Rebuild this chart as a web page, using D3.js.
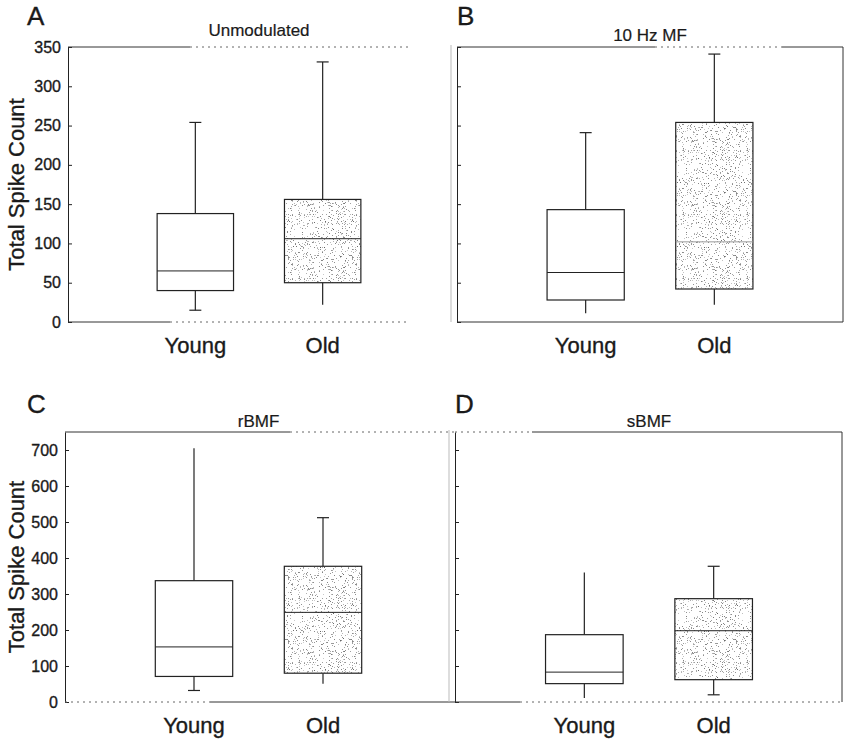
<!DOCTYPE html>
<html lang="en">
<head>
    <meta charset="UTF-8">
    <title>Total Spike Count - Young vs Old</title>
    <style>
        body {
            margin: 0;
            background: #ffffff;
        }
        svg {
            display: block;
            font-family: "Liberation Sans", Arial, sans-serif;
        }
        text {
            fill: #1a1a1a;
            stroke: #1a1a1a;
            stroke-width: 0.35px;
        }
        .tick text {
            font-size: 16px;
            font-family: "Liberation Sans", Arial, sans-serif;
        }
        .domain, .tick line {
            stroke: #222;
        }
    </style>
</head>
<body>

<div id="chart"></div>

<script src="https://d3js.org/d3.v7.min.js"></script>
<script>
    // groups and panels
    const groups = ["Young", "Old"];
    const panelLetters = ["A", "B", "C", "D"];
    const panelTitles = ["Unmodulated", "10 Hz MF", "rBMF", "sBMF"];

    // box stats per panel: [lower whisker, Q1, median, Q3, upper whisker]
    const youngStats = [
        [15, 40, 65, 138, 254],
        [11, 28, 63, 143, 241],
        [32, 71, 153, 337, 705],
        [11, 51, 83, 187, 360]
    ];
    const oldStats = [
        [22, 50, 106, 156, 331],
        [22, 42, 102, 254, 341],
        [51, 80, 249, 377, 512],
        [20, 62, 198, 287, 377]
    ];

    // y axes
    const topTicks = [0, 50, 100, 150, 200, 250, 300, 350];
    const bottomTicks = [0, 100, 200, 300, 400, 500, 600, 700];
    const topMax = 350;
    const bottomMax = 750;

    // which whisker ends carry a cap: [young low, young high, old low, old high]
    const caps = [[1, 1, 0, 1], [0, 1, 0, 1], [1, 0, 0, 1], [0, 0, 1, 1]];

    const width = 850;
    const height = 745;

    // panel placement on the page
    const layout = [
        {left: 68, right: 450, top: 47, bottom: 322, frameEnd: 410, rightLine: false, labels: true,
         letterX: 27, letterY: 25, titleDy: -11, topDash: [190, 410], bottomDash: [170, 410]},
        {left: 457, right: 843, top: 47, bottom: 322, frameEnd: 843, rightLine: true, labels: false,
         letterX: 457, letterY: 25, titleDy: -6, topDash: [655, 782], bottomDash: null},
        {left: 65, right: 452, top: 432, bottom: 702, frameEnd: 455, rightLine: false, labels: true,
         letterX: 27, letterY: 413, titleDy: -5, topDash: [290, 455], bottomDash: [65, 210]},
        {left: 455, right: 843, top: 432, bottom: 702, frameEnd: 842, rightLine: true, labels: false,
         letterX: 455, letterY: 413, titleDy: -5, topDash: [455, 532], bottomDash: [520, 842]}
    ];

    const svg = d3.select("#chart")
        .append("svg")
        .attr("width", width)
        .attr("height", height);

    // stippled fill for the Old boxes
    const tile = 64;
    const pat = svg.append("defs").append("pattern")
        .attr("id", "stipple")
        .attr("patternUnits", "userSpaceOnUse")
        .attr("width", tile)
        .attr("height", tile);
    pat.append("rect").attr("width", tile).attr("height", tile).attr("fill", "#fff");
    let seed = 11;
    const rnd = () => (seed = (seed * 16807) % 2147483647) / 2147483647;
    for (let k = 0; k < 520; k++) {
        pat.append("rect")
            .attr("x", Math.floor(rnd() * tile))
            .attr("y", Math.floor(rnd() * tile))
            .attr("width", 1)
            .attr("height", 1)
            .attr("fill", "#555")
            .attr("opacity", 0.3 + rnd() * 0.45);
    }

    layout.forEach((L, i) => {
        const isTop = i < 2;
        const g = svg.append("g");

        const y = d3.scaleLinear()
            .domain([0, isTop ? topMax : bottomMax])
            .range([L.bottom, L.top]);

        const x = d3.scalePoint()
            .domain(groups)
            .range([L.left, L.right])
            .padding(1);

        const boxW = x.step() * 0.6;

        // left axis, ticks pointing inward
        const axis = d3.axisLeft(y)
            .tickValues(isTop ? topTicks : bottomTicks)
            .tickSizeInner(-4)
            .tickSizeOuter(0)
            .tickPadding(7);
        if (!L.labels) axis.tickFormat("");
        g.append("g")
            .attr("transform", `translate(${L.left},0)`)
            .call(axis);

        // frame lines; the faded stretches of the scan are drawn dotted
        const solid = (x1, x2, yy) => g.append("line")
            .attr("x1", x1).attr("x2", x2).attr("y1", yy).attr("y2", yy)
            .attr("stroke", "#333");
        const dotted = (x1, x2, yy) => g.append("line")
            .attr("x1", x1).attr("x2", x2).attr("y1", yy).attr("y2", yy)
            .attr("stroke", "#666").attr("stroke-dasharray", "2,4");

        [[L.top, L.topDash], [L.bottom, L.bottomDash]].forEach(([yy, d]) => {
            if (!d) { solid(L.left, L.frameEnd, yy); return; }
            if (d[0] > L.left) solid(L.left, d[0], yy);
            dotted(d[0], d[1], yy);
            if (d[1] < L.frameEnd) solid(d[1], L.frameEnd, yy);
        });
        if (L.rightLine) {
            g.append("line")
                .attr("x1", L.frameEnd).attr("x2", L.frameEnd)
                .attr("y1", L.top).attr("y2", L.bottom)
                .attr("stroke", "#333");
        }
        if (!L.labels) {
            // faint outer edge left of the unlabelled axes
            g.append("line")
                .attr("x1", L.left - 6).attr("x2", L.left - 6)
                .attr("y1", L.top - 2).attr("y2", L.bottom)
                .attr("stroke", "#bbb");
        }

        // boxes
        groups.forEach((name, j) => {
            const s = (j === 0 ? youngStats : oldStats)[i];
            const cx = x(name);
            const cap = caps[i];
            const bg = g.append("g").attr("stroke", "#222").attr("stroke-width", 1.2);

            bg.append("line")
                .attr("x1", cx).attr("x2", cx)
                .attr("y1", y(s[3])).attr("y2", y(s[4]));
            bg.append("line")
                .attr("x1", cx).attr("x2", cx)
                .attr("y1", y(s[1])).attr("y2", y(s[0]));

            [[s[0], cap[j * 2]], [s[4], cap[j * 2 + 1]]].forEach(([v, on]) => {
                if (!on) return;
                bg.append("line")
                    .attr("x1", cx - 6).attr("x2", cx + 6)
                    .attr("y1", y(v)).attr("y2", y(v));
            });

            bg.append("rect")
                .attr("x", cx - boxW / 2)
                .attr("y", y(s[3]))
                .attr("width", boxW)
                .attr("height", y(s[1]) - y(s[3]))
                .attr("fill", j === 0 ? "#fff" : "url(#stipple)");

            bg.append("line")
                .attr("x1", cx - boxW / 2).attr("x2", cx + boxW / 2)
                .attr("y1", y(s[2])).attr("y2", y(s[2]))
                .attr("stroke-width", 1)
                .attr("stroke", i === 1 && j === 1 ? "#999" : "#222");

            g.append("text")
                .attr("x", cx)
                .attr("y", L.bottom + 31)
                .attr("text-anchor", "middle")
                .attr("font-size", 22)
                .text(name);
        });

        // title and panel letter
        g.append("text")
            .attr("x", (L.left + L.right) / 2)
            .attr("y", L.top + L.titleDy)
            .attr("text-anchor", "middle")
            .attr("font-size", 17)
            .style("stroke-width", "0.2px")
            .text(panelTitles[i]);

        g.append("text")
            .attr("x", L.letterX)
            .attr("y", L.letterY)
            .attr("font-size", 26)
            .text(panelLetters[i]);

        if (L.labels) {
            g.append("text")
                .attr("transform", `translate(24,${(L.top + L.bottom) / 2})rotate(-90)`)
                .attr("text-anchor", "middle")
                .attr("font-size", 22)
                .text("Total Spike Count");
        }
    });
</script>
</body>
</html>
